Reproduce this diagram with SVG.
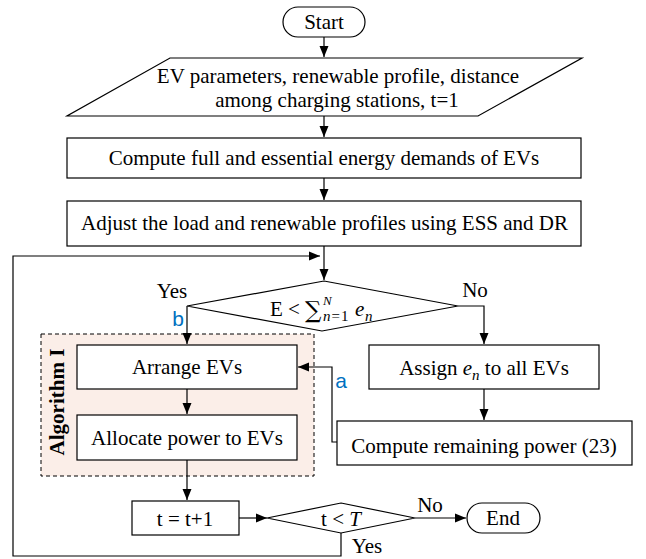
<svg xmlns="http://www.w3.org/2000/svg" width="646" height="559" viewBox="0 0 646 559">
<defs>
<style>
.n{fill:#fff;stroke:#000;stroke-width:1.2}
.t{font-family:"Liberation Serif","Times New Roman",serif;font-size:21px;fill:#000}
.m{text-anchor:middle}
.i{font-style:italic}
.c{fill:none;stroke:#000;stroke-width:1.2}
.lb{font-family:"Liberation Sans",Arial,sans-serif;font-size:21px;fill:#0070C0}
</style>
<marker id="ah" markerUnits="userSpaceOnUse" markerWidth="12" markerHeight="10" refX="11" refY="5" orient="auto">
<path d="M0,0.5 L11,5 L0,9.5 z" fill="#000"/>
</marker>
</defs>
<rect width="646" height="559" fill="#fff"/>
<g id="algorithm-region">
<rect x="41" y="334" width="273" height="142" fill="#FBEEE8" stroke="#000" stroke-width="1" stroke-dasharray="4,3"/>
<text class="t" transform="translate(64,402) rotate(-90)" text-anchor="middle" font-weight="bold" font-size="20">Algorithm I</text>
</g>
<g id="connectors">
<path class="c" marker-end="url(#ah)" d="M324,37 V57"/>
<path class="c" marker-end="url(#ah)" d="M324,116 V137"/>
<path class="c" marker-end="url(#ah)" d="M324,178 V200"/>
<path class="c" marker-end="url(#ah)" d="M324,246 V280"/>
<path class="c" marker-end="url(#ah)" d="M341,533 V556 H13 V256 H320"/>
<path class="c" marker-end="url(#ah)" d="M187,306 V344"/>
<path class="c" marker-end="url(#ah)" d="M458,306 H484 V344"/>
<path class="c" marker-end="url(#ah)" d="M484,389 V420"/>
<path class="c" marker-end="url(#ah)" d="M337,442 H332 V367 H298"/>
<path class="c" marker-end="url(#ah)" d="M187,389 V414"/>
<path class="c" marker-end="url(#ah)" d="M187,460 V500"/>
<path class="c" marker-end="url(#ah)" d="M239,518 H267"/>
<path class="c" marker-end="url(#ah)" d="M415,518 H466"/>
<text class="t m" x="172" y="298">Yes</text>
<text class="t m" x="475" y="297">No</text>
<text class="lb m" x="178" y="326">b</text>
<text class="lb m" x="341" y="388">a</text>
<text class="t m" x="430" y="512">No</text>
<text class="t m" x="367" y="553">Yes</text>
</g>
<g id="start">
<rect class="n" x="283" y="7" width="82" height="30" rx="15" ry="15"/>
<text class="t m" x="324" y="29">Start</text>
</g>
<g id="input">
<polygon class="n" points="170,58 582,58 478,116 67,116"/>
<text class="t m" x="338" y="83">EV parameters, renewable profile, distance</text>
<text class="t m" x="337" y="107">among charging stations, t=1</text>
</g>
<g id="compute-demands">
<rect class="n" x="67" y="138" width="514" height="40"/>
<text class="t m" x="324" y="165">Compute full and essential energy demands of EVs</text>
</g>
<g id="adjust-profiles">
<rect class="n" x="67" y="201" width="514" height="45"/>
<text class="t m" x="324.5" y="230">Adjust the load and renewable profiles using ESS and DR</text>
</g>
<g id="decision-energy">
<polygon class="n" points="324,281 458,306 322,331 187,306"/>
<text class="t" x="270" y="316">E &lt;<tspan x="305" y="318" font-family="'DejaVu Serif',serif" font-size="23">∑</tspan><tspan class="i" x="323" y="305" font-size="13">N</tspan><tspan class="i" x="323" y="321" font-size="15">n</tspan><tspan dx="1" font-size="15">=</tspan><tspan dx="1" font-size="15">1</tspan><tspan class="i" x="355" y="316">e</tspan><tspan class="i" x="365" y="321" font-size="15">n</tspan></text>
</g>
<g id="arrange">
<rect class="n" x="77" y="345" width="220" height="44"/>
<text class="t m" x="187" y="374">Arrange EVs</text>
</g>
<g id="allocate">
<rect class="n" x="77" y="415" width="220" height="45"/>
<text class="t m" x="187" y="445">Allocate power to EVs</text>
</g>
<g id="assign">
<rect class="n" x="369" y="345" width="230" height="44"/>
<text class="t m" x="484" y="375">Assign <tspan class="i">e</tspan><tspan class="i" font-size="15" dy="5">n</tspan><tspan dy="-5"> to all EVs</tspan></text>
</g>
<g id="compute-remaining">
<rect class="n" x="337" y="421" width="295" height="44"/>
<text class="t m" x="484" y="453">Compute remaining power (23)</text>
</g>
<g id="increment">
<rect class="n" x="132" y="501" width="107" height="34"/>
<text class="t m" x="185" y="526">t = t+1</text>
</g>
<g id="decision-time">
<polygon class="n" points="341,503 415,518 341,533 267,518"/>
<text class="t m" x="341" y="526">t &lt; <tspan class="i">T</tspan></text>
</g>
<g id="end">
<rect class="n" x="467" y="503" width="73" height="30" rx="15" ry="15"/>
<text class="t m" x="503" y="525">End</text>
</g>
</svg>
